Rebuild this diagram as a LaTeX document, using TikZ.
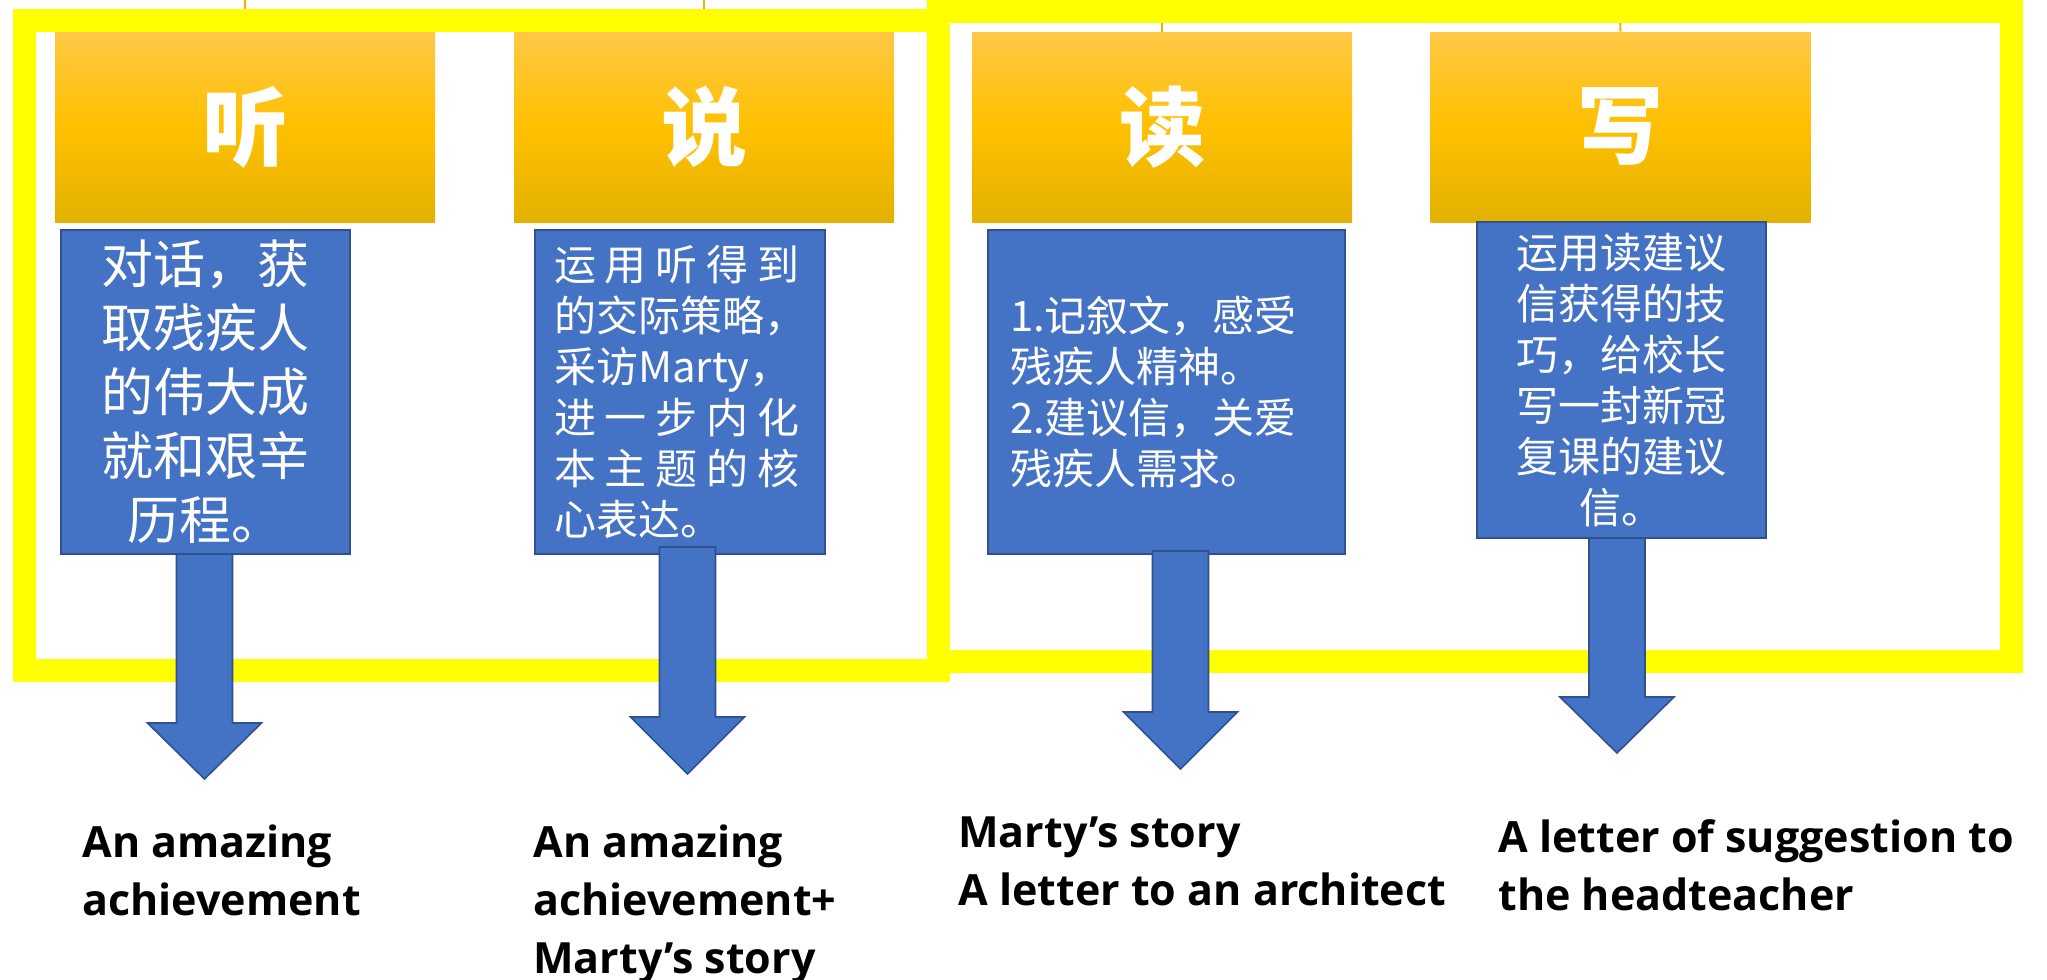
\documentclass[tikz,border=0pt]{standalone}
\usepackage{fontspec}
\newfontfamily\cjk{Noto Sans CJK SC}
\newfontfamily\labfont{Open Sans}
\definecolor{frameyellow}{HTML}{FFFF00}
\definecolor{connorange}{HTML}{F5B000}
\definecolor{hdrtop}{HTML}{FFC846}
\definecolor{hdrmid}{HTML}{FFC000}
\definecolor{hdrbot}{HTML}{E3B100}
\definecolor{boxblue}{HTML}{4472C4}
\definecolor{boxborder}{HTML}{2F528F}
\newcommand\dnblockarrow[4]{%
  \draw[blockarrow] (#1-28,#2) -- (#1+28,#2) -- (#1+28,#3) -- (#1+57,#3) -- (#1,#4) -- (#1-57,#3) -- (#1-28,#3) -- cycle;}
\begin{document}
\begin{tikzpicture}[x=0.5pt,y=-0.5pt,
  frame/.style={draw=frameyellow, line width=11.5pt},
  conn/.style={draw=connorange, line width=1pt},
  hdr/.style={rectangle, minimum width=190pt, minimum height=95pt, inner sep=0pt,
    top color=hdrtop, bottom color=hdrbot, middle color=hdrmid, text=white,
    font=\cjk\bfseries\fontsize{43}{43}\selectfont},
  bbox/.style={rectangle, draw=boxborder, line width=1pt, fill=boxblue, text=white,
    inner ysep=0pt, font=\cjk\fontsize{21}{25.5}\selectfont},
  blockarrow/.style={draw=boxborder, line width=0.8pt, fill=boxblue, line join=miter},
  lab/.style={align=left, inner sep=0pt, font=\labfont\bfseries\fontsize{21.5}{29}\selectfont}]
\useasboundingbox (0,0) rectangle (2047,980);
% connectors from the (cut-off) parent
\coordinate (p1) at (245,0);
\coordinate (p2) at (704,0);
\coordinate (p3) at (1162,0);
\coordinate (p4) at (1620,0);
% headers
\node[hdr] (h1) at (245,127) {听};
\node[hdr] (h2) at (704,127) {说};
\node[hdr] (h3) at (1162,127) {读};
\node[hdr] (h4) at (1620.5,127) {写};
\draw[conn] (p1) -- (h1.north);
\draw[conn] (p2) -- (h2.north);
\draw[conn] (p3) -- (h3.north);
\draw[conn] (p4) -- (h4.north);
% frames
\draw[frame] (24.5,20.5) rectangle (938,670.5);
\draw[frame] (938,11.5) rectangle (2011.5,661.5);
% blue boxes
\node[bbox, minimum width=144.5pt, minimum height=162pt, inner xsep=0pt, align=center,
  font=\cjk\fontsize{26}{32}\selectfont] (b1) at (205.5,392)
  {对话，获\\取残疾人\\的伟大成\\就和艰辛\\历程。};
\node[bbox, minimum width=145pt, minimum height=162pt, inner xsep=9.5pt, text width=126pt, align=left] (b2) at (680,392)
  {\makebox[5.85em][l]{运\hfill 用\hfill 听\hfill 得\hfill 到}\\的交际策略，\\采访Marty，\\\makebox[5.85em][l]{进\hfill 一\hfill 步\hfill 内\hfill 化}\\\makebox[5.85em][l]{本\hfill 主\hfill 题\hfill 的\hfill 核}\\心表达。};
\node[bbox, minimum width=178.5pt, minimum height=162pt, inner xsep=11pt, text width=156.5pt, align=left] (b3) at (1166.5,392)
  {1.记叙文，感受\\残疾人精神。\\2.建议信，关爱\\残疾人需求。};
\node[bbox, minimum width=144.5pt, minimum height=158pt, inner xsep=0pt, align=center] (b4) at (1621.5,380)
  {运用读建议\\信获得的技\\巧，给校长\\写一封新冠\\复课的建议\\信。};
% block arrows
\dnblockarrow{204.5}{554}{723}{779}
\dnblockarrow{687.5}{547}{717}{774}
\dnblockarrow{1180.5}{551}{712}{769}
\dnblockarrow{1617}{538}{697}{753}
% outcome labels (base = baseline of last line)
\node[lab, anchor=base west] (l1) at (82,915) {An amazing\\achievement};
\node[lab, anchor=base west] (l2) at (533,973) {An amazing\\achievement+\\Marty’s story};
\node[lab, anchor=base west] (l3) at (958,905) {Marty’s story\\A letter to an architect};
\node[lab, anchor=base west] (l4) at (1498,910) {A letter of suggestion to\\the headteacher};
\end{tikzpicture}
\end{document}
